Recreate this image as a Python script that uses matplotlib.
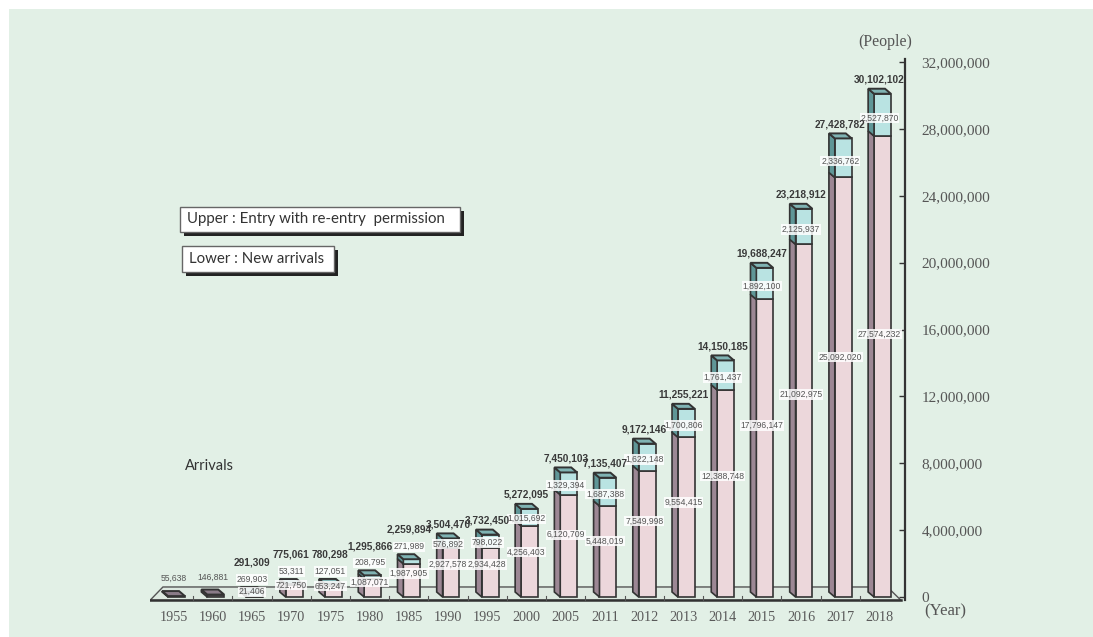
import numpy as np
import matplotlib
matplotlib.use("Agg")
import matplotlib.pyplot as plt
from matplotlib.patches import Polygon, Rectangle
from matplotlib.ticker import FuncFormatter

W, H = 1093, 637

years = ["1955", "1960", "1965", "1970", "1975", "1980", "1985", "1990", "1995",
         "2000", "2005", "2011", "2012", "2013", "2014", "2015", "2016", "2017", "2018"]
totals = [55638, 146881, 291309, 775061, 780298, 1295866, 2259894, 3504470, 3732450,
          5272095, 7450103, 7135407, 9172146, 11255221, 14150185, 19688247, 23218912,
          27428782, 30102102]
# lower part of each bar: new arrivals (no split given for 1955 and 1960)
new_arrivals = [np.nan, np.nan, 21406, 721750, 653247, 1087071, 1987905, 2927578,
                2934428, 4256403, 6120709, 5448019, 7549998, 9554415, 12388748,
                17796147, 21092975, 25092020, 27574232]
# upper part: entry with re-entry permission
reentry = [np.nan, np.nan, 269903, 53311, 127051, 208795, 271989, 576892, 798022,
           1015692, 1329394, 1687388, 1622148, 1700806, 1761437, 1892100, 2125937,
           2336762, 2527870]
yticks = [0, 4e6, 8e6, 12e6, 16e6, 20e6, 24e6, 28e6, 32e6]

BG = "#e2f0e6"
PINK, PINK_SIDE = "#ecd7db", "#9c8794"
CYAN, CYAN_SIDE = "#b9e3e2", "#5f9697"
MAUVE = "#8a7b88"
EDGE = "#333333"


def fx(px):
    return px / W


def fy(py):
    return 1 - py / H


def comma(v):
    return f"{int(v):,}"


fig = plt.figure(figsize=(W / 100, H / 100), dpi=100, facecolor=BG)
# white margins at top and left of the scanned panel
fig.patches.append(Rectangle((0, 0), fx(9), 1, transform=fig.transFigure,
                             facecolor="white", edgecolor="none", zorder=-5))
fig.patches.append(Rectangle((0, fy(9)), 1, 1, transform=fig.transFigure,
                             facecolor="white", edgecolor="none", zorder=-5))

ax = fig.add_axes([fx(150), fy(603.7), fx(755), fy(62) - fy(603.7)])
ax.set_facecolor("none")
ax.set_xlim(-0.6, 18.65)
ax.set_ylim(-0.4e6, 32e6)

for s in ["left", "top", "bottom"]:
    ax.spines[s].set_visible(False)
ax.spines["right"].set_color("#333333")
ax.spines["right"].set_linewidth(1.6)
ax.spines["right"].set_bounds(-0.2e6, 32.2e6)

ax.yaxis.tick_right()
ax.set_yticks(yticks)
ax.yaxis.set_major_formatter(FuncFormatter(lambda v, p: comma(v)))
ax.tick_params(axis="y", direction="in", length=4, width=1, color="#333333",
               pad=12, labelsize=11, labelcolor="#555555")
for lab in ax.get_yticklabels():
    lab.set_family("Liberation Serif")

x = np.arange(len(years))
ax.set_xticks(x)
ax.set_xticklabels(years, family="Liberation Serif", fontsize=10.2, color="#5a5a5a")
ax.tick_params(axis="x", length=0, pad=5)

# floor of the 3d chart
dep = 0.8e6
ax.fill([-0.6, 18.55, 18.2, -0.27], [-0.2e6, -0.2e6, dep - 0.2e6, dep - 0.2e6],
        facecolor="#dde9e0", edgecolor="#555555", lw=1, zorder=1)
ax.plot([-0.6, 18.55], [-0.2e6, -0.2e6], color="#333333", lw=1.8, zorder=2)
for xm in x[:-1] + 0.5:
    ax.plot([xm, xm], [-0.2e6, 0.05e6], color="#555555", lw=0.8, zorder=2)

bw, sw, dy = 0.29, 0.15, 0.3e6


def box(i, y0, y1, front, side, z):
    xl, xr = i - bw, i + bw
    ax.add_patch(Rectangle((xl + sw, y0), xr - xl - sw, y1 - y0, facecolor=front,
                           edgecolor=EDGE, lw=1.2, zorder=z))
    ax.add_patch(Polygon([(xl, y0 + dy), (xl + sw, y0), (xl + sw, y1), (xl, y1 + dy)],
                         closed=True, facecolor=side, edgecolor=EDGE, lw=1.2, zorder=z))


def cap(i, top, color, z):
    xl, xr = i - bw, i + bw
    ax.add_patch(Polygon([(xl + sw, top), (xr, top), (xr - sw, top + dy), (xl, top + dy)],
                         closed=True, facecolor=color, edgecolor=EDGE, lw=1.4, zorder=z))


small = dict(fontsize=6.2, color="#555555", family="Liberation Sans", ha="center",
             va="center", zorder=10)
wbox = dict(boxstyle="square,pad=0.08", facecolor="white", edgecolor="none", alpha=0.85)

for i in x:
    z = 3 + i * 0.01
    tot = totals[i]
    if np.isnan(new_arrivals[i]):
        box(i, 0, tot, MAUVE, "#6e616c", z)
        cap(i, tot, MAUVE, z)
        ax.text(i, tot + 1.05e6, comma(tot), **small)
        continue
    lo, up = new_arrivals[i], reentry[i]
    box(i, 0, lo, PINK, PINK_SIDE, z)
    box(i, lo, lo + up, CYAN, CYAN_SIDE, z)
    cap(i, lo + up, "#7fb3b3", z)

    # value labels
    if up < 0.5e6:
        y_up = tot + 0.75e6
        y_tot = y_up + 1.0e6
    else:
        y_up = lo + 0.42 * up
        y_tot = tot + 0.85e6
    y_lo = 0.3e6 + 0.56 * lo
    ax.text(i, y_up, comma(up), bbox=wbox, **small)
    ax.text(i, y_lo, comma(lo), bbox=wbox, **small)
    ax.text(i, y_tot, comma(tot), fontsize=7.3, fontweight="bold", color="#3a3a3a",
            family="Liberation Sans", ha="center", va="center", zorder=12)

fig.text(fx(885), fy(42), "(People)", family="Liberation Serif", fontsize=11.5,
         color="#555555", ha="center", va="center")
fig.text(fx(945), fy(611), "(Year)", family="Liberation Serif", fontsize=12,
         color="#555555", ha="center", va="center")
fig.text(fx(185), fy(466), "Arrivals", family="Lato", fontsize=10.5, color="#333333",
         ha="left", va="center")

# legend-like boxes with shadow
for (x0, y0, x1, y1), txt in [((180, 207, 460, 232), "Upper : Entry with re-entry  permission"),
                              ((182, 246, 334, 272), "Lower : New arrivals")]:
    fig.patches.append(Rectangle((fx(x0 + 4), fy(y1 + 4)), fx(x1 - x0), fy(y0) - fy(y1),
                                 transform=fig.transFigure, facecolor="#222222",
                                 edgecolor="none"))
    fig.patches.append(Rectangle((fx(x0), fy(y1)), fx(x1 - x0), fy(y0) - fy(y1),
                                 transform=fig.transFigure, facecolor="white",
                                 edgecolor="#666666", lw=1))
    fig.text(fx(x0 + 7), fy((y0 + y1) / 2), txt, family="Lato", fontsize=10.8,
             color="#333333", ha="left", va="center")

fig.savefig("out.png", dpi=100, facecolor=BG)
